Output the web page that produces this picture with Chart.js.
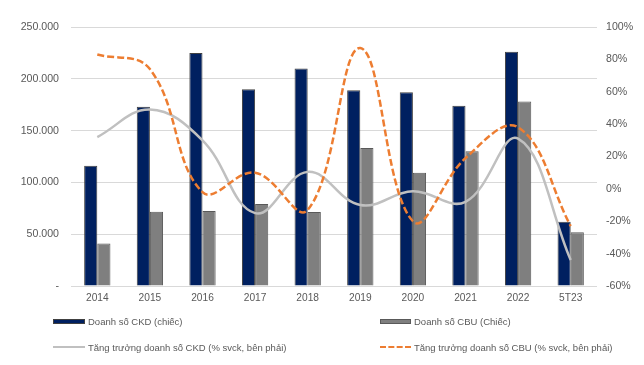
<!DOCTYPE html>
<html><head><meta charset="utf-8">
<script src="https://cdn.jsdelivr.net/npm/chart.js@4.4.0/dist/chart.umd.min.js"></script>
<style>
html,body{margin:0;padding:0;background:#fff;}
#wrap{position:relative;width:644px;height:365px;}
canvas{position:absolute;left:0;top:0;}
.lg{position:absolute;font-family:"Liberation Sans",Arial,sans-serif;font-size:9.5px;color:#595959;white-space:nowrap;line-height:12px;height:12px;}
.sw{display:inline-block;vertical-align:middle;width:32px;margin-right:3px;position:relative;top:-1px;}
</style></head>
<body><div id="wrap"><canvas id="c" width="644" height="365"></canvas>
<div class="lg" style="left:53px;top:316px"><span class="sw" style="height:5px;background:#002060;border:1px solid #404040;box-sizing:border-box"></span>Doanh số CKD (chiếc)</div>
<div class="lg" style="left:380px;top:316px"><span class="sw" style="width:31px;height:5px;background:#7f7f7f;border:1px solid #595959;box-sizing:border-box"></span>Doanh số CBU (Chiếc)</div>
<div class="lg" style="left:53px;top:342px"><span class="sw" style="height:0;border-top:2.5px solid #c0c0c0"></span>Tăng trưởng doanh số CKD (% svck, bên phải)</div>
<div class="lg" style="left:380px;top:342px"><span class="sw" style="width:31px;height:0;border-top:2.5px dashed #ED7D31"></span>Tăng trưởng doanh số CBU (% svck, bên phải)</div>
</div>
<script>
const categories = ["2014","2015","2016","2017","2018","2019","2020","2021","2022","5T23"];
const ckdSales = [116000,173000,225000,190000,210000,189000,187000,174000,226000,62000];
const cbuSales = [41000,71700,72400,79200,71400,133200,109400,130000,178000,51800];
const ckdGrowth = [32,49,30,-15,10.5,-10,-1.5,-8,31,-44];
const cbuGrowth = [83,74,-2,10,-13,87,-20,19,38,-23];

const ff = "'Liberation Sans', Arial, sans-serif";
new Chart(document.getElementById('c'), {
  type:'bar',
  data:{labels:categories, datasets:[
    {type:'line', label:'Tăng trưởng doanh số CBU (% svck, bên phải)', data:cbuGrowth, yAxisID:'y1', borderColor:'#ED7D31', borderWidth:2.5, borderDash:[7,3], pointRadius:0, tension:0.4, fill:false, order:0},
    {type:'line', label:'Tăng trưởng doanh số CKD (% svck, bên phải)', data:ckdGrowth, yAxisID:'y1', borderColor:'#c0c0c0', borderWidth:2.5, pointRadius:0, tension:0.4, fill:false, order:1},
    {label:'Doanh số CKD (chiếc)', data:ckdSales, yAxisID:'y', backgroundColor:'#002060', borderColor:'#404040', borderWidth:1, categoryPercentage:0.5, barPercentage:1.0, order:2},
    {label:'Doanh số CBU (Chiếc)', data:cbuSales, yAxisID:'y', backgroundColor:'#7f7f7f', borderColor:'#595959', borderWidth:1, categoryPercentage:0.5, barPercentage:1.0, order:3}
  ]},
  options:{
    responsive:false, animation:false,
    layout:{padding:{left:0,right:0,top:27,bottom:57}},
    plugins:{legend:{display:false}, tooltip:{enabled:false}},
    scales:{
      x:{grid:{display:false, drawTicks:false}, border:{display:false},
         ticks:{color:'#595959', font:{family:ff,size:10.2}, padding:6, maxRotation:0},
         afterFit:(s)=>{s.height=22;}},
      y:{position:'left', min:0, max:250000,
         ticks:{stepSize:50000, color:'#595959', font:{family:ff,size:10.6}, padding:12,
           callback:(v)=> v===0 ? '-' : v.toLocaleString('de-DE')},
         grid:{color:'#d9d9d9', lineWidth:1, drawTicks:false}, border:{display:false},
         afterFit:(s)=>{s.width=71;}},
      y1:{position:'right', min:-60, max:100,
         ticks:{stepSize:20, color:'#595959', font:{family:ff,size:10.6}, padding:9, callback:(v)=>v+'%'},
         grid:{display:false, drawTicks:false}, border:{display:false},
         afterFit:(s)=>{s.width=47;}}
    }
  }
});
</script></body></html>
